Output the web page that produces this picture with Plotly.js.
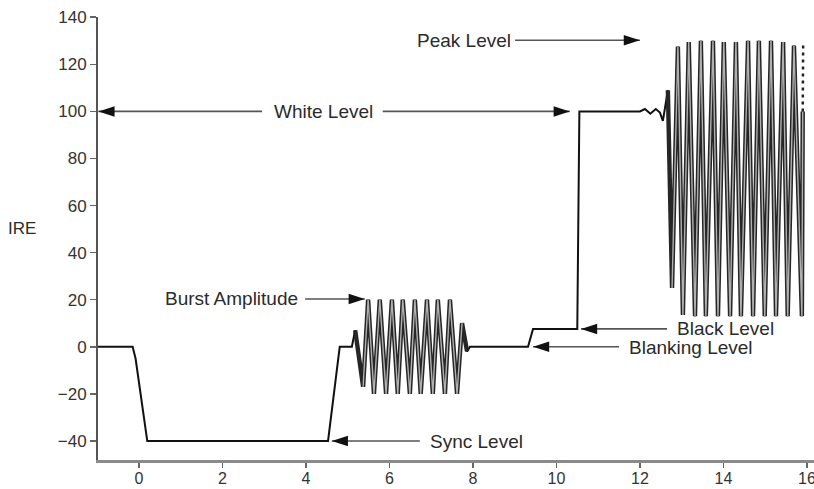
<!DOCTYPE html>
<html>
<head>
<meta charset="utf-8">
<script src="https://cdn.plot.ly/plotly-3.0.1.min.js"></script>
<style>html,body{margin:0;padding:0;background:#fff;}#chart{width:814px;height:489px;}</style>
</head>
<body>
<div id="chart"></div>
<script>
// ---- waveform data (time in µs, level in IRE) ----
const syncT  = [-0.98, -0.15, -0.08, 0.20, 4.53, 4.81, 5.10];
const syncV  = [0, 0, -5, -40, -40, 0, 0];

const burstT = [5.10, 5.18, 5.37, 5.49, 5.63, 5.77, 5.92, 6.06, 6.20, 6.32, 6.49, 6.61, 6.75, 6.90, 7.04, 7.16, 7.33, 7.45, 7.62, 7.74, 7.86, 7.93];
const burstV = [0, 7, -17, 20, -20, 20, -20, 20, -20, 20, -20, 20, -20, 20, -20, 20, -20, 20, -20, 10, -2, 0];

const porchT = [7.93, 9.32, 9.44, 10.50, 10.55, 12.00, 12.12, 12.25, 12.38, 12.48, 12.55, 12.67];
const porchV = [0, 0, 7.6, 7.6, 100, 100, 101, 99, 101, 99.5, 96, 109];

const chromaT = [12.67, 12.77, 12.91, 13.03, 13.17, 13.32, 13.46, 13.58, 13.75, 13.87, 14.01, 14.16, 14.30, 14.42, 14.59, 14.71, 14.85, 14.99, 15.14, 15.26, 15.43, 15.54, 15.69, 15.88, 15.90];
const chromaV = [109, 25, 127.5, 13.5, 129.5, 13, 130, 13, 130, 13, 129.5, 13, 129.5, 13, 130, 13, 130, 13, 130, 13, 129.5, 13, 128, 13, 100];

const dashT = [15.90, 15.91];
const dashV = [100, 128];

// ---- labels and arrows ----
const labelText = ['Peak Level', 'White Level', 'Burst Amplitude', 'Sync Level', 'Black Level', 'Blanking Level'];
const labelX    = [7.78, 4.41, 2.22, 8.08, 14.04, 13.22];
const labelY    = [130.2, 100, 20.3, -40.3, 7.6, -0.3];

const arrowTailX = [9.01, 2.95, 5.84, 3.98, 6.73, 12.65, 11.50];
const arrowTipX  = [12.00, -0.97, 10.32, 5.41, 4.62, 10.59, 9.44];
const arrowY     = [130.2, 100, 100, 20.3, -40, 7.6, 0];

const xTicks = [0, 2, 4, 6, 8, 10, 12, 14, 16];
const yTicks = [-40, -20, 0, 20, 40, 60, 80, 100, 120, 140];

// ---- build traces ----
const waveT = syncT.concat(burstT.slice(1), porchT.slice(1), chromaT.slice(1));
const waveV = syncV.concat(burstV.slice(1), porchV.slice(1), chromaV.slice(1));

const shaftX = [], shaftY = [];
arrowTailX.forEach((t, i) => { shaftX.push(t, arrowTipX[i], null); shaftY.push(arrowY[i], arrowY[i], null); });
const tipAngle = arrowTipX.map((x, i) => x > arrowTailX[i] ? 90 : -90);

const FONT = 'Liberation Sans, Arial, Helvetica, sans-serif';

const traces = [
  {x: waveT, y: waveV, mode: 'lines', line: {color: '#111', width: 2}, hoverinfo: 'skip'},
  {x: burstT.slice(1, -1), y: burstV.slice(1, -1), mode: 'lines', line: {color: '#262626', width: 4.4}, hoverinfo: 'skip'},
  {x: burstT.slice(2, -2), y: burstV.slice(2, -2), mode: 'lines', line: {color: '#b0b0b0', width: 1.4}, hoverinfo: 'skip'},
  {x: chromaT, y: chromaV, mode: 'lines', line: {color: '#262626', width: 4.4}, hoverinfo: 'skip'},
  {x: chromaT.slice(1), y: chromaV.slice(1), mode: 'lines', line: {color: '#b0b0b0', width: 1.4}, hoverinfo: 'skip'},
  {x: dashT, y: dashV, mode: 'lines', line: {color: '#222', width: 2.5, dash: '3px,4px'}, hoverinfo: 'skip'},
  {x: shaftX, y: shaftY, mode: 'lines', line: {color: '#555', width: 1.6}, hoverinfo: 'skip', connectgaps: false},
  {x: arrowTipX, y: arrowY, mode: 'markers', hoverinfo: 'skip',
   marker: {symbol: 'arrow', size: 17, color: '#111', angle: tipAngle, line: {width: 0}}}
];

const annotations = labelText.map((t, i) => ({
  text: t, x: labelX[i], y: labelY[i], xref: 'x', yref: 'y', showarrow: false,
  xanchor: 'center', yanchor: 'middle', font: {family: FONT, size: 19, color: '#2b2b2b'}
}));
annotations.push({text: 'IRE', xref: 'paper', yref: 'y', x: -0.106, y: 50.3, showarrow: false,
  xanchor: 'center', yanchor: 'middle', font: {family: FONT, size: 17, color: '#2b2b2b'}});

const layout = {
  width: 814, height: 489,
  margin: {l: 98, r: 0, t: 17, b: 29, pad: 0},
  paper_bgcolor: '#fff', plot_bgcolor: '#fff',
  showlegend: false,
  xaxis: {range: [-0.98, 16.17], tickvals: xTicks, ticktext: xTicks.map(String), showgrid: false, zeroline: false,
          showline: true, linecolor: '#8a8a8a', linewidth: 2.5, ticks: 'outside', ticklen: 5, tickwidth: 1.5, tickcolor: '#666',
          ticklabeloverflow: 'allow', ticklabelstandoff: -3,
          tickfont: {family: FONT, size: 16, color: '#333'}, fixedrange: true, automargin: false},
  yaxis: {range: [-48.1, 140.1], tickvals: yTicks, showgrid: false, zeroline: false,
          showline: true, linecolor: '#555', linewidth: 2, ticks: 'outside', ticklen: 6, tickwidth: 1.5, tickcolor: '#666',
          ticklabeloverflow: 'allow',
          tickfont: {family: FONT, size: 17, color: '#333'}, fixedrange: true, automargin: false},
  annotations: annotations
};

Plotly.newPlot('chart', traces, layout, {displayModeBar: false, staticPlot: true});
</script>
</body>
</html>
